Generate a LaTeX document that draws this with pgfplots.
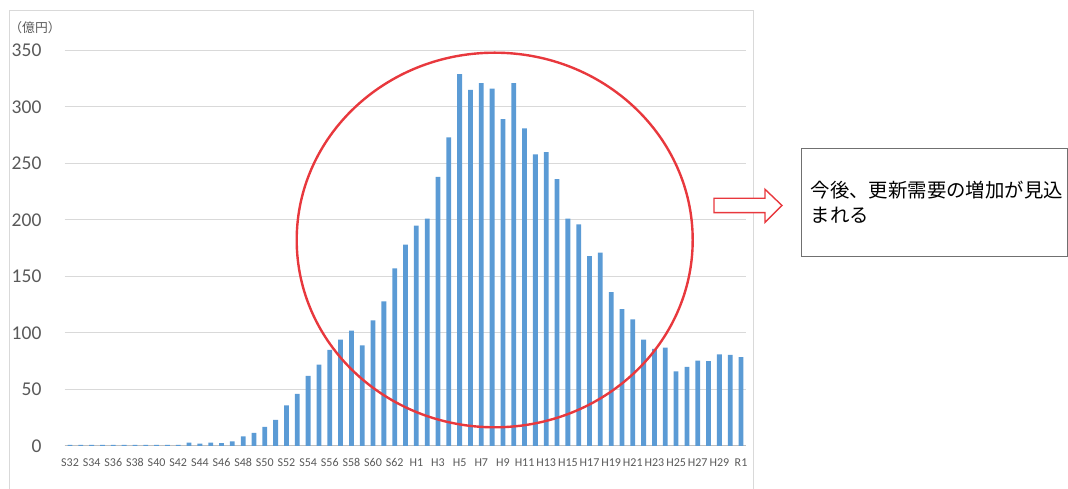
\documentclass[border=0pt]{standalone}
\usepackage{pgfplots}
\pgfplotsset{compat=1.18}
\usepackage{fontspec}
\setmainfont{Carlito}
\newfontfamily\cjk{Noto Sans CJK JP}

\definecolor{barblue}{HTML}{5B9BD5}
\definecolor{gridgray}{HTML}{D9D9D9}
\definecolor{axisgray}{HTML}{BFBFBF}
\definecolor{labelgray}{HTML}{595959}
\definecolor{ringred}{HTML}{E8383D}
\definecolor{boxgray}{HTML}{707070}

\begin{document}
\begin{tikzpicture}
\useasboundingbox (0,0) rectangle (1068pt,489pt);

% chart area frame
\draw[gridgray, line width=1pt] (9.5pt,-5pt) -- (9.5pt,478.3pt) -- (753.3pt,478.3pt) -- (753.3pt,-5pt);

\begin{axis}[
  anchor=origin, at={(70pt,43pt)},
  x=10.823pt, y=1.1306pt,
  xmin=-0.5, xmax=62.5, ymin=0, ymax=350,
  enlargelimits=false,
  ybar, bar width=4.8pt,
  axis x line*=bottom, axis y line*=left,
  x axis line style={draw=axisgray, line width=1pt, -},
  y axis line style={draw=none},
  major tick length=0pt,
  ymajorgrids, grid style={gridgray, line width=1pt},
  ytick={0,50,...,350},
  xtick={0,2,...,62},
  xticklabels={S32,S34,S36,S38,S40,S42,S44,S46,S48,S50,S52,S54,S56,S58,S60,S62,
               H1,H3,H5,H7,H9,H11,H13,H15,H17,H19,H21,H23,H25,H27,H29,R1},
  /pgf/number format/assume math mode=true,
  yticklabel style={font=\fontsize{19.5}{20}\selectfont, text=labelgray, anchor=east, inner sep=0pt, xshift=-23pt},
  xticklabel style={font=\fontsize{12}{13}\selectfont, text=labelgray, anchor=north, inner sep=0pt, yshift=-12.3pt},
]
\addplot[fill=barblue, draw=none] coordinates {
  (0,1) (1,1) (2,1) (3,1) (4,1) (5,1) (6,1) (7,1) (8,1) (9,1) (10,1)
  (11,3) (12,2) (13,3) (14,2.5) (15,4) (16,8.5) (17,11.5) (18,17) (19,23)
  (20,36) (21,46) (22,62) (23,72) (24,85) (25,94) (26,102) (27,89) (28,111)
  (29,128) (30,157) (31,178)
  (32,195) (33,201) (34,238) (35,273) (36,329) (37,315) (38,321) (39,316)
  (40,289) (41,321) (42,281) (43,258) (44,260) (45,236) (46,201) (47,196)
  (48,168) (49,171) (50,136) (51,121) (52,112) (53,94) (54,86) (55,87)
  (56,66) (57,70) (58,75.5) (59,75) (60,81) (61,80.5) (62,78.5)
};
\end{axis}

% unit label
\node[font=\cjk\fontsize{12.8}{14}\selectfont, text=labelgray] at (35pt,461.8pt) {（億円）};

% highlighted peak region
\draw[ringred, line width=2.4pt] (494.7pt,249pt) ellipse [x radius=198pt, y radius=187.3pt];

% outline arrow
\draw[ringred, line width=1.4pt, fill=white, line join=miter]
  (714pt,290.7pt) -- (765pt,290.7pt) -- (765pt,299.7pt) -- (782pt,283.5pt)
  -- (765pt,266.7pt) -- (765pt,276.3pt) -- (714pt,276.3pt) -- cycle;

% comment box
\draw[boxgray, line width=1pt] (801.7pt,232pt) rectangle (1067.5pt,340pt);
\node[font=\cjk\fontsize{19.4}{25}\selectfont, anchor=west, inner sep=0pt] at (810.5pt,299pt) {今後、更新需要の増加が見込};
\node[font=\cjk\fontsize{19.4}{25}\selectfont, anchor=west, inner sep=0pt] at (810.5pt,274pt) {まれる};
\end{tikzpicture}
\end{document}
